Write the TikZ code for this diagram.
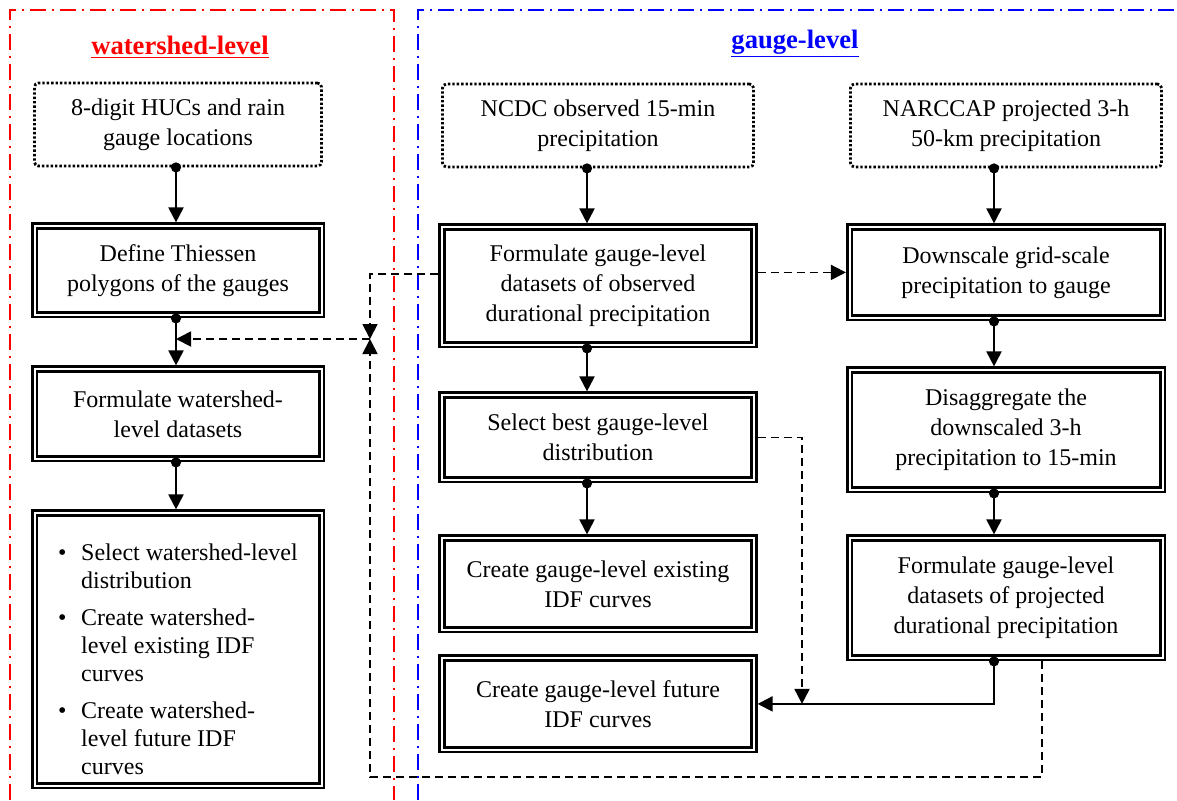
\documentclass[tikz,border=0pt]{standalone}
\usepackage{fontspec}
\setmainfont{Liberation Serif}
\usetikzlibrary{arrows.meta,positioning}

\begin{document}
\begin{tikzpicture}[x=0.5pt,y=-0.5pt,>={Triangle[length=7.5pt,width=7.5pt]},
    font=\fontsize{12}{15}\selectfont,node distance=27.5pt,
    src node/.style={draw,line width=1.4pt,dash pattern=on 1.2pt off 1pt,rounded corners=2pt,
      align=center,minimum width=155.5pt,minimum height=41.5pt,outer sep=0.7pt},
    task node/.style={draw,double,line width=1.3pt,double distance=1pt,
      align=center,minimum width=156pt,outer sep=1.8pt},
    flow/.style={draw,line width=1pt,{Circle[length=5pt]}->,shorten <=-2.5pt},
    link/.style={draw,line width=0.9pt,dash pattern=on 4pt off 2.5pt,->},
    frame/.style={line width=1pt,dash pattern=on 8pt off 3pt on 1pt off 3pt},
    title/.style={anchor=base,font=\fontsize{13.3}{16}\selectfont\bfseries}]

  \useasboundingbox (0,0) rectangle (1177,800);

  % the two groups
  \draw[frame,red]  (10,800) -- (10,10) -- (394,10) -- (394,800);
  \draw[frame,blue] (418,800) -- (418,10) -- (1177,10);
  \node[title,text=red]  (wstitle) at (180,54) {\underline{watershed-level}};
  \node[title,text=blue] (gtitle)  at (795,48) {\underline{gauge-level}};

  % inputs
  \node[src node,minimum width=143.5pt] (hucs)    at (178,124.5) {8-digit HUCs and rain\\gauge locations};
  \node[src node]                       (ncdc)    at (598,125.5) {NCDC observed 15-min\\precipitation};
  \node[src node]                       (narccap) at (1006,125.5) {NARCCAP projected 3-h\\50-km precipitation};

  % watershed column
  \node[task node,minimum width=143.5pt,minimum height=44.4pt] (thiessen) [below=of hucs]
    {Define Thiessen\\polygons of the gauges};
  \node[task node,minimum width=143.5pt,minimum height=44.9pt] (wsdata) [below=23.5pt of thiessen]
    {Formulate watershed-\\level datasets};
  \node[task node,minimum width=143.5pt,minimum height=136.4pt,inner ysep=0pt] (wsidf) [below=23.5pt of wsdata]
    {\fontsize{12}{14}\selectfont
     \begin{tabular}{@{}l@{\hspace{7.3pt}}l@{}}
       \rule{0pt}{21.8pt}\textbullet & Select watershed-level\\
                   & distribution\\[4.5pt]
       \textbullet & Create watershed-\\
                   & level existing IDF\\
                   & curves\\[4.5pt]
       \textbullet & Create watershed-\\
                   & level future IDF\\
                   & curves
     \end{tabular}};

  % observed column
  \node[task node,minimum height=58.9pt] (obsdata) [below=of ncdc]
    {Formulate gauge-level\\datasets of observed\\durational precipitation};
  \node[task node,minimum height=42.4pt] (bestdist) [below=21.5pt of obsdata]
    {Select best gauge-level\\distribution};
  \node[task node,minimum height=45.9pt] (existidf) [below=25.5pt of bestdist]
    {Create gauge-level existing\\IDF curves};
  \node[task node,minimum height=45.9pt] (futureidf) [below=10.5pt of existidf]
    {Create gauge-level future\\IDF curves};

  % projected column
  \node[task node,minimum width=156.5pt,minimum height=45.4pt] (downscale) [below=of narccap]
    {Downscale grid-scale\\precipitation to gauge};
  \node[task node,minimum width=156.5pt,minimum height=59.9pt] (disagg) [below=22.5pt of downscale]
    {Disaggregate the\\downscaled 3-h\\precipitation to 15-min};
  \node[task node,minimum width=156.5pt,minimum height=59.9pt] (projdata) [below=20.5pt of disagg]
    {Formulate gauge-level\\datasets of projected\\durational precipitation};

  \coordinate (leftx)  at (176,0);
  \coordinate (midx)   at (587,0);
  \coordinate (rightx) at (994,0);
  \coordinate (tap)    at (802,0);
  \coordinate (projx)  at (1042,0);
  \coordinate (join)   at (370,339);
  \coordinate (low)    at (370,777);

  \path (hucs.south -| leftx)     edge[flow] (thiessen.north -| leftx)
        (thiessen.south -| leftx) edge[flow] (wsdata.north -| leftx)
        (wsdata.south -| leftx)   edge[flow] (wsidf.north -| leftx)
        (ncdc.south -| midx)      edge[flow] (obsdata.north -| midx)
        (obsdata.south -| midx)   edge[flow] (bestdist.north -| midx)
        (bestdist.south -| midx)  edge[flow] (existidf.north -| midx)
        (narccap.south -| rightx) edge[flow] (downscale.north -| rightx)
        (downscale.south -| rightx) edge[flow] (disagg.north -| rightx)
        (disagg.south -| rightx)  edge[flow] (projdata.north -| rightx);
  \draw[flow] (projdata.south -| rightx) |- (futureidf.east);

  % dashed links
  \draw[link] ([yshift=6pt]obsdata.west) -| (join);
  \draw[link] (downscale.west -| obsdata.east) -- (downscale.west);
  \draw[link] (projdata.south -| projx) |- (low) -- (join);
  \draw[link] (join) -- (join -| leftx);
  \draw[link] (bestdist.east) -| (tap |- futureidf.east);
\end{tikzpicture}
\end{document}
